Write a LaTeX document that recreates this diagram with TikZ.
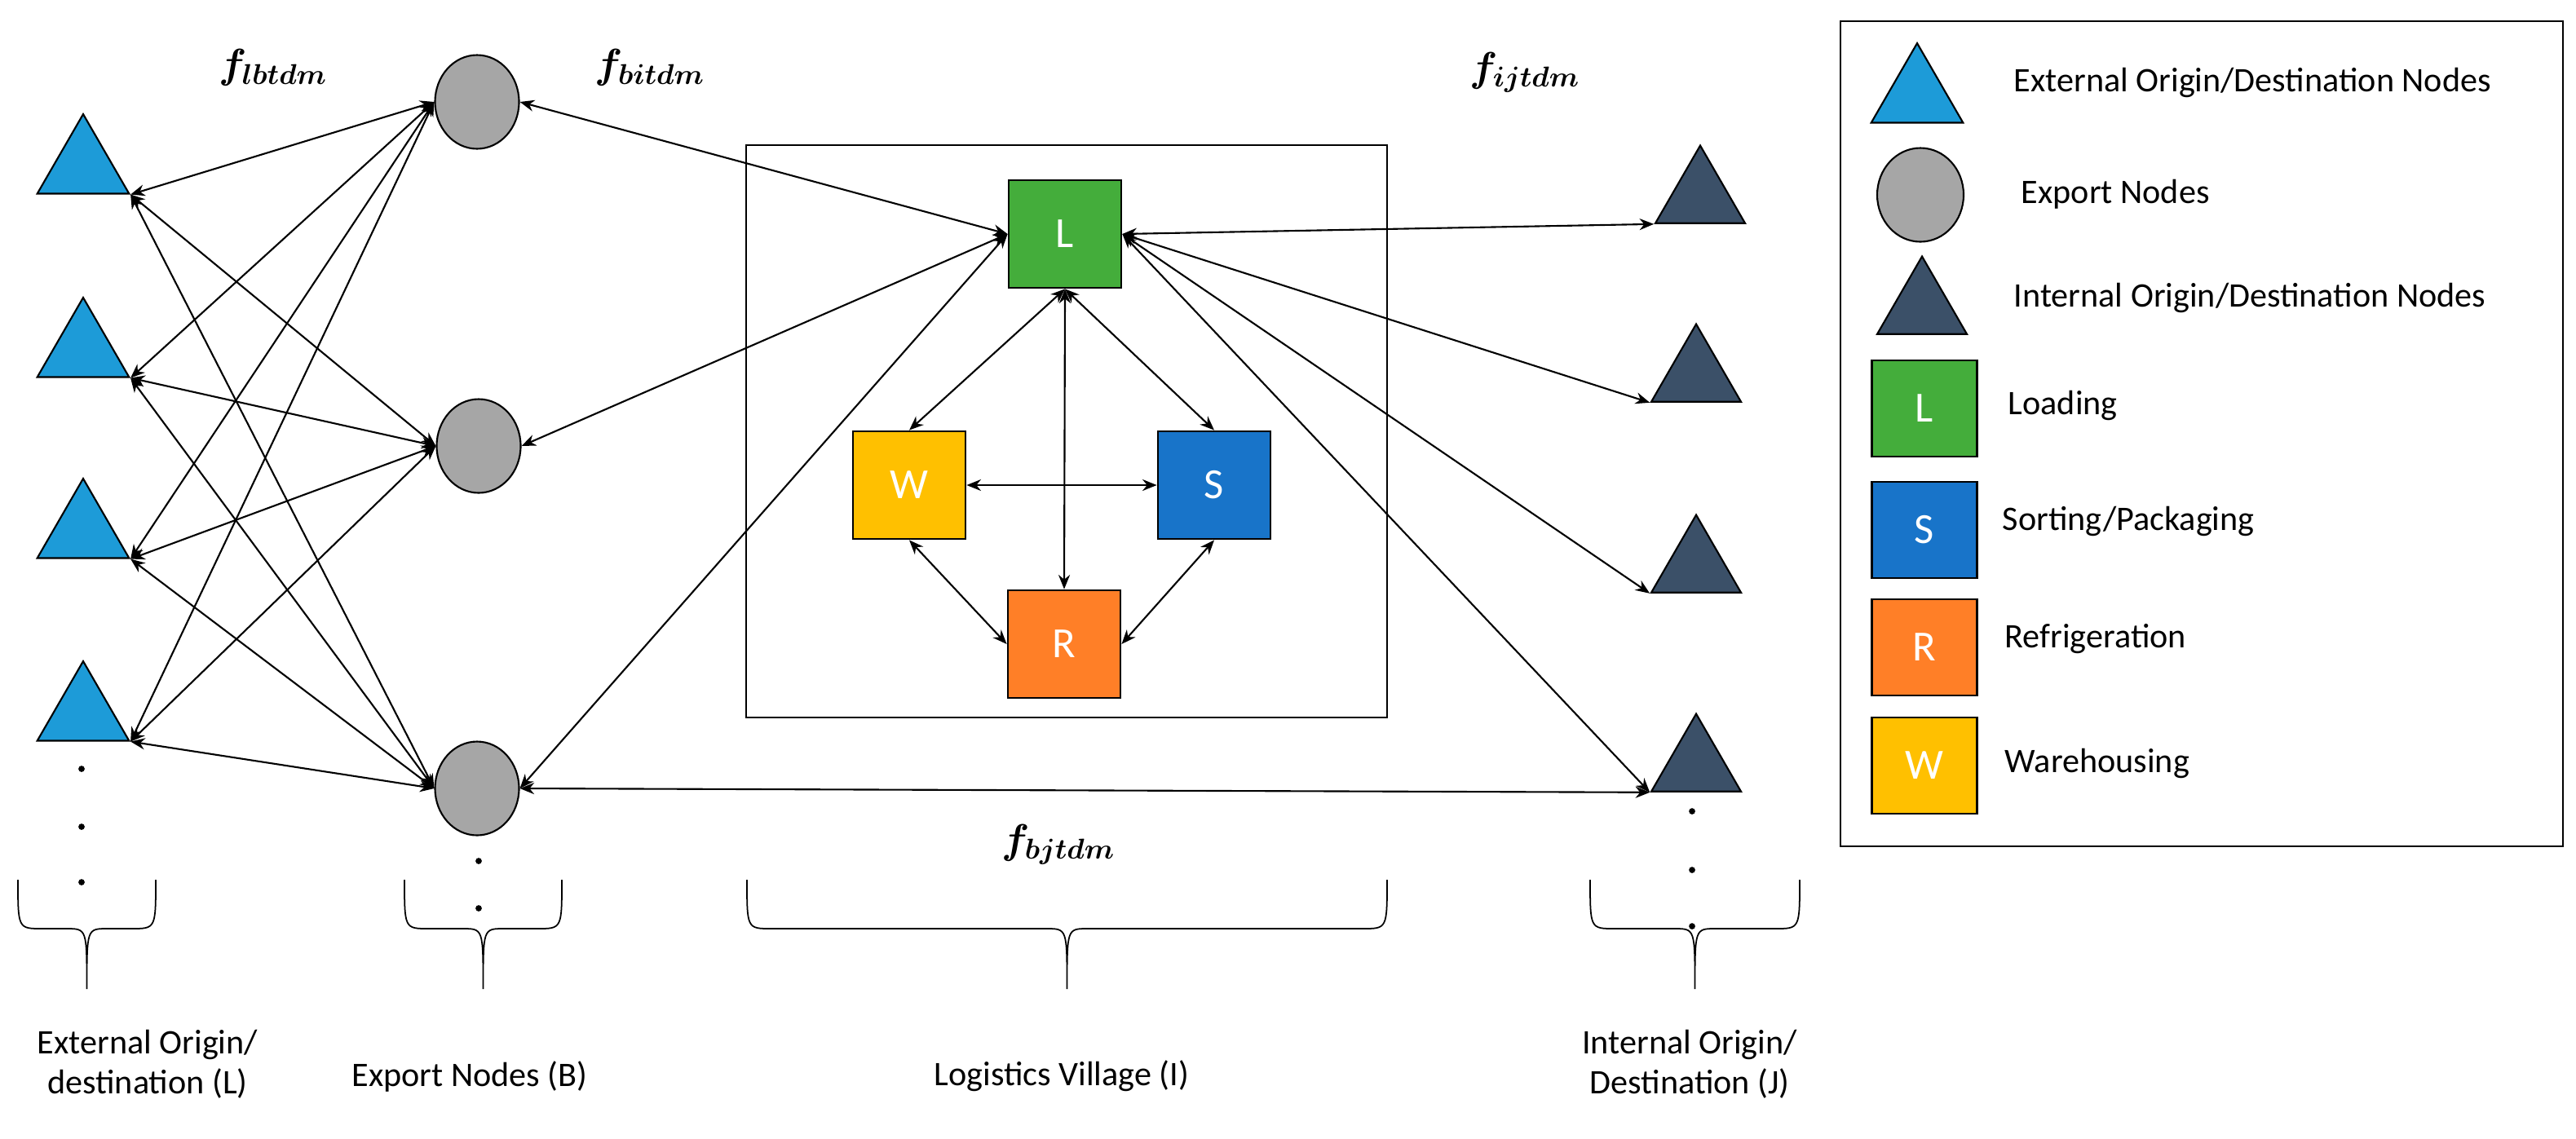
\documentclass[tikz,border=0pt]{standalone}
\usepackage{fontspec}
\usepackage{amsmath}
\setmainfont{Carlito}
\usetikzlibrary{shapes.geometric,arrows.meta}

\definecolor{extblue}{RGB}{29,155,216}
\definecolor{intblue}{RGB}{59,80,104}
\definecolor{expgrey}{RGB}{166,166,166}
\definecolor{loadgreen}{RGB}{68,173,59}
\definecolor{sortblue}{RGB}{24,116,201}
\definecolor{refrorange}{RGB}{255,127,39}
\definecolor{wareyellow}{RGB}{255,192,0}

\tikzset{
    ext/.style = {regular polygon, regular polygon sides = 3, draw, fill = extblue, minimum size = 1.3cm, inner sep = 0pt},
    int/.style = {regular polygon, regular polygon sides = 3, draw, fill = intblue, minimum size = 1.27cm, inner sep = 0pt},
    exp/.style = {ellipse, draw, fill = expgrey, minimum width = 1.03cm, minimum height = 1.15cm, inner sep = 0pt},
    unit/.style = {rectangle, draw, thick, text = white, minimum width = 1.38cm, minimum height = 1.32cm, font = \fontsize{15}{15}\selectfont},
    lunit/.style = {unit, minimum width = 1.29cm, minimum height = 1.18cm},
    flow/.style = {font = \Large},
    lbl/.style = {font = \fontsize{12}{14}\selectfont, align = center},
    dot/.style = {circle, fill, inner sep = 0pt, minimum size = 2.2pt}
}

\newcommand{\cbrace}[4]{% x1, x2, ytop, ytip
    \draw[line width = 0.5pt] (#1,#3) .. controls (#1,#3-0.6) .. (#1+0.3,#3-0.6) -- ({(#1+#2)/2-0.25},#3-0.6) .. controls ({(#1+#2)/2},#3-0.6) .. ({(#1+#2)/2},#4)
        ({(#1+#2)/2},#4) .. controls ({(#1+#2)/2},#3-0.6) .. ({(#1+#2)/2+0.25},#3-0.6) -- (#2-0.3,#3-0.6) .. controls (#2,#3-0.6) .. (#2,#3);}

\begin{document}
\begin{tikzpicture}[line width = 0.6pt, >={Stealth[length = 5pt, width = 4pt]}]
    \useasboundingbox (0,0) rectangle (31.59,-13.96);

    % external origin/destination
    \node[ext] (l1) at (1.02, -2.05) {};
    \node[ext] (l2) at (1.02, -4.30) {};
    \node[ext] (l3) at (1.02, -6.52) {};
    \node[ext] (l4) at (1.02, -8.76) {};

    % export nodes
    \node[exp] (b1) at (5.85, -1.25) {};
    \node[exp] (b2) at (5.87, -5.47) {};
    \node[exp] (b3) at (5.85, -9.67) {};

    % logistics village
    \node[draw, minimum width = 7.86cm, minimum height = 7.02cm] (village) at (13.08, -5.29) {};
    \node[unit, fill = loadgreen]  (L) at (13.06, -2.87) {L};
    \node[unit, fill = wareyellow] (W) at (11.15, -5.95) {W};
    \node[unit, fill = sortblue]   (S) at (14.89, -5.95) {S};
    \node[unit, fill = refrorange] (R) at (13.05, -7.90) {R};

    % internal origin/destination
    \node[int] (j1) at (20.85, -2.42) {};
    \node[int] (j2) at (20.80, -4.61) {};
    \node[int] (j3) at (20.80, -6.95) {};
    \node[int] (j4) at (20.80, -9.39) {};

    \draw[<->] (l1.corner 3) -- (b1.west);
    \draw[<->] (l1.corner 3) -- (b2.west);
    \draw[<->] (l1.corner 3) -- (b3.west);

    \draw[<->] (l2.corner 3) -- (b1.west);
    \draw[<->] (l2.corner 3) -- (b2.west);
    \draw[<->] (l2.corner 3) -- (b3.west);

    \draw[<->] (l3.corner 3) -- (b1.west);
    \draw[<->] (l3.corner 3) -- (b2.west);
    \draw[<->] (l3.corner 3) -- (b3.west);

    \draw[<->] (l4.corner 3) -- (b1.west);
    \draw[<->] (l4.corner 3) -- (b2.west);
    \draw[<->] (l4.corner 3) -- (b3.west);

    \draw[<->] (b1.east) -- (L.west);
    \draw[<->] (b2.east) -- (L.west);
    \draw[<->] (b3.east) -- (L.west);

    \draw[<->] (L.east) -- (j1.corner 2);
    \draw[<->] (L.east) -- (j2.corner 2);
    \draw[<->] (L.east) -- (j3.corner 2);
    \draw[<->] (L.east) -- (j4.corner 2);

    \draw[<->] (b3.east) -- (j4.corner 2);

    \draw[<->] (L.south) -- (W.north);
    \draw[<->] (L.south) -- (S.north);
    \draw[<->] (L.south) -- (R.north);
    \draw[<->] (W.east) -- (S.west);
    \draw[<->] (W.south) -- (R.west);
    \draw[<->] (S.south) -- (R.east);

    % flow labels
    \node[flow] (flb) at (3.35, -0.83) {$\boldsymbol{f_{lbtdm}}$};
    \node[flow] (fbi) at (7.97, -0.83) {$\boldsymbol{f_{bitdm}}$};
    \node[flow] (fij) at (18.70, -0.89) {$\boldsymbol{f_{ijtdm}}$};
    \node[flow] (fbj) at (12.98, -10.36) {$\boldsymbol{f_{bjtdm}}$};

    % dots
    \node[dot] (dl1) at (1.00, -9.43) {};
    \node[dot] (dl2) at (1.00, -10.14) {};
    \node[dot] (dl3) at (1.00, -10.82) {};
    \node[dot] (db1) at (5.87, -10.56) {};
    \node[dot] (db2) at (5.87, -11.14) {};
    \node[dot] (dj1) at (20.75, -9.95) {};
    \node[dot] (dj2) at (20.75, -10.67) {};
    \node[dot] (dj3) at (20.75, -11.36) {};

    % braces and group labels
    \cbrace{0.22}{1.91}{-10.79}{-12.13}
    \cbrace{4.96}{6.89}{-10.79}{-12.13}
    \cbrace{9.16}{17.01}{-10.79}{-12.13}
    \cbrace{19.50}{22.07}{-10.79}{-12.13}

    \node[lbl] (gl) at (1.81, -13.05) {External Origin/\\destination (L)};
    \node[lbl] (gb) at (5.76, -13.20) {Export Nodes (B)};
    \node[lbl] (gi) at (13.02, -13.20) {Logistics Village (I)};
    \node[lbl] (gj) at (20.72, -13.05) {Internal Origin/\\Destination (J)};

    % legend
    \draw (22.57, -0.26) rectangle (31.43, -10.38);
    \node[ext, minimum size = 1.3cm] (k1) at (23.51, -1.18) {};
    \node[exp, minimum width = 1.06cm] (k2) at (23.55, -2.39) {};
    \node[int] (k3) at (23.57, -3.78) {};
    \node[lunit, fill = loadgreen]  (k4) at (23.60, -5.01) {L};
    \node[lunit, fill = sortblue]   (k5) at (23.60, -6.50) {S};
    \node[lunit, fill = refrorange] (k6) at (23.60, -7.94) {R};
    \node[lunit, fill = wareyellow] (k7) at (23.60, -9.39) {W};

    \node[lbl, anchor = west] (t1) at (24.57, -1.01) {External Origin/Destination Nodes};
    \node[lbl, anchor = west] (t2) at (24.66, -2.38) {Export Nodes};
    \node[lbl, anchor = west] (t3) at (24.57, -3.65) {Internal Origin/Destination Nodes};
    \node[lbl, anchor = west] (t4) at (24.50, -4.97) {Loading};
    \node[lbl, anchor = west] (t5) at (24.43, -6.39) {Sorting/Packaging};
    \node[lbl, anchor = west] (t6) at (24.46, -7.84) {Refrigeration};
    \node[lbl, anchor = west] (t7) at (24.46, -9.36) {Warehousing};
\end{tikzpicture}
\end{document}
